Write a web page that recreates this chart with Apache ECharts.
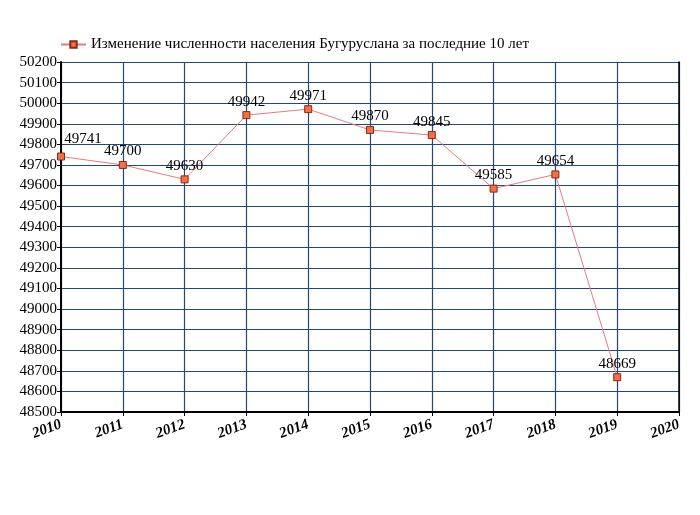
<!DOCTYPE html>
<html><head><meta charset="utf-8">
<script src="https://cdn.jsdelivr.net/npm/echarts@6/dist/echarts.min.js"></script>
<style>html,body{margin:0;padding:0;background:#fff}#c{width:700px;height:515px}</style>
</head><body><div id="c"></div>
<script>
const years = [2010, 2011, 2012, 2013, 2014, 2015, 2016, 2017, 2018, 2019];
const population = [49741, 49700, 49630, 49942, 49971, 49870, 49845, 49585, 49654, 48669];
const seriesName = 'Изменение численности населения Бугуруслана за последние 10 лет';
const yMin = 48500, yMax = 50200, yStep = 100;
const xMin = 2010, xMax = 2020;

const font = '"Liberation Serif","Times New Roman",serif';
const chart = echarts.init(document.getElementById('c'));
chart.setOption({
  animation: false,
  legend: {
    top: 32, left: 55,
    itemWidth: 25, itemHeight: 8, itemGap: 4,
    textStyle: {fontFamily: font, fontSize: 15, color: '#000'},
    data: [{name: seriesName}]
  },
  grid: {left: 61, right: 21, top: 62, bottom: 103},
  xAxis: {
    type: 'value', min: xMin, max: xMax, interval: 1,
    axisLine: {show: true, onZero: false, lineStyle: {color: '#000', width: 2}},
    axisTick: {show: true, length: 4, lineStyle: {color: '#000'}},
    splitLine: {show: true, lineStyle: {color: '#24477a', width: 1.2}},
    axisLabel: {rotate: 20, fontFamily: font, fontSize: 15, fontStyle: 'italic', fontWeight: 'bold', color: '#000', margin: 12,
      formatter: v => String(v)}
  },
  yAxis: [{
    type: 'value', min: yMin, max: yMax, interval: yStep,
    axisLine: {show: true, lineStyle: {color: '#000', width: 2}},
    axisTick: {show: true, length: 4, lineStyle: {color: '#000'}},
    splitLine: {show: true, lineStyle: {color: '#24477a', width: 1.2}},
    axisLabel: {fontFamily: font, fontSize: 15, color: '#000', margin: 4, formatter: v => String(v)}
  }, {
    type: 'value', min: yMin, max: yMax, interval: yStep, position: 'right',
    axisLine: {show: true, lineStyle: {color: '#000', width: 1.5}},
    axisTick: {show: false}, axisLabel: {show: false}, splitLine: {show: false}
  }],
  series: [{
    name: seriesName,
    type: 'line',
    data: years.map((y, i) => [y, population[i]]),
    symbol: 'rect', symbolSize: 7,
    itemStyle: {color: '#f0704a', borderColor: '#8a2a10', borderWidth: 1},
    lineStyle: {color: '#e87a7a', width: 1},
    label: {
      show: true, position: 'top', distance: 2,
      fontFamily: font, fontSize: 15, color: '#000',
      formatter: p => String(p.value[1])
    },
    labelLayout: (p) => p.dataIndex === 0 ? {dx: 22, dy: -4} : {}
  }]
});
</script></body></html>
